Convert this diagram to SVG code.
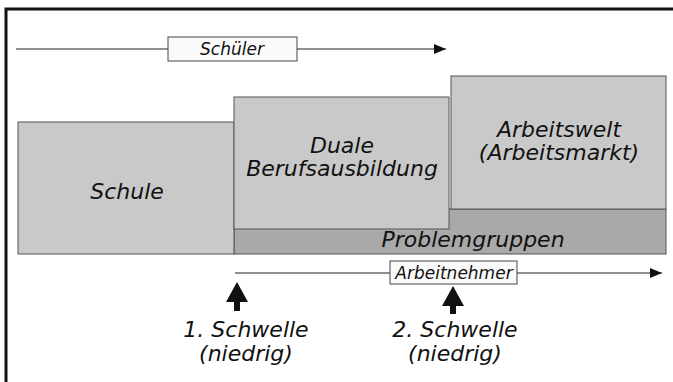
<svg xmlns="http://www.w3.org/2000/svg" width="673" height="382" viewBox="0 0 673 382">
  <style>
    .box { fill: #c9c9c9; stroke: #555; stroke-width: 1; }
    .dark { fill: #a9a9a9; stroke: #555; stroke-width: 1; }
    .lbl { fill: #fafafa; stroke: #444; stroke-width: 1; }
    .t { font-family: "DejaVu Sans", sans-serif; font-style: italic; fill: #111; text-anchor: middle; }
    .big { font-size: 22px; }
    .small { font-size: 17px; }
    .line { stroke: #222; stroke-width: 1.2; fill: none; }
  </style>
  <defs>
    <marker id="head" viewBox="0 0 12 10" refX="12" refY="5" markerWidth="12" markerHeight="10" markerUnits="userSpaceOnUse" orient="auto">
      <path d="M0,0 L12,5 L0,10 Z" fill="#111"/>
    </marker>
  </defs>

  <rect width="673" height="382" fill="#fff"/>
  <!-- frame -->
  <path d="M6,382 V9 H673" fill="none" stroke="#111" stroke-width="3"/>

  <!-- stages -->
  <g id="problemgruppen">
    <rect class="dark" x="234" y="209" width="432" height="45"/>
    <text class="t big" x="473" y="247">Problemgruppen</text>
  </g>
  <g id="schule">
    <rect class="box" x="18" y="122" width="216" height="132"/>
    <text class="t big" x="127" y="199">Schule</text>
  </g>
  <g id="duale-berufsausbildung">
    <rect class="box" x="234" y="97" width="215" height="132"/>
    <text class="t big" x="342" y="153">Duale</text>
    <text class="t big" x="342" y="176">Berufsausbildung</text>
  </g>
  <g id="arbeitswelt">
    <rect class="box" x="451" y="76" width="215" height="133"/>
    <text class="t big" x="559" y="137">Arbeitswelt</text>
    <text class="t big" x="559" y="160">(Arbeitsmarkt)</text>
  </g>

  <!-- flows and thresholds -->
  <g id="connectors">
    <line class="line" x1="16" y1="49" x2="446" y2="49" marker-end="url(#head)"/>
    <line class="line" x1="235" y1="273" x2="662" y2="273" marker-end="url(#head)"/>
    <path d="M237,282 L248,302 L240,302 L240,311 L234,311 L234,302 L226,302 Z" fill="#111"/>
    <path d="M453,286 L464,306 L456,306 L456,314 L450,314 L450,306 L442,306 Z" fill="#111"/>
  </g>

  <g id="schueler">
    <rect class="lbl" x="168" y="37" width="129" height="24"/>
    <text class="t small" x="232" y="55">Schüler</text>
  </g>
  <g id="arbeitnehmer">
    <rect class="lbl" x="390" y="261" width="127" height="23"/>
    <text class="t small" x="454" y="279">Arbeitnehmer</text>
  </g>

  <g id="schwelle-1">
    <text class="t big" x="246" y="337">1. Schwelle</text>
    <text class="t big" x="246" y="361">(niedrig)</text>
  </g>
  <g id="schwelle-2">
    <text class="t big" x="455" y="337">2. Schwelle</text>
    <text class="t big" x="455" y="361">(niedrig)</text>
  </g>
</svg>
